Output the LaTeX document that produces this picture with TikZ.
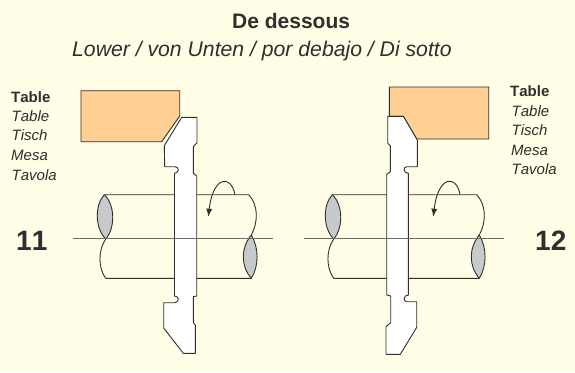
\documentclass[tikz,border=0pt]{standalone}
\usepackage{fontspec}
\usetikzlibrary{arrows.meta}
\setmainfont[Kerning=Off]{Liberation Sans}
\definecolor{paper}{HTML}{FFFDE6}
\definecolor{blockcol}{HTML}{FFCF94}
\definecolor{lenscol}{HTML}{C8C9CB}
\definecolor{inkcol}{HTML}{2F2F2D}
\tikzset{
  outline/.style={draw=inkcol,line width=0.9pt,line join=round},
  block/.style={outline,fill=blockcol},
  tool/.style={outline,fill=white},
  lens/.style={outline,fill=lenscol},
  axisline/.style={draw=gray!85!black,line width=1pt},
  label/.style={inner sep=0pt,anchor=base west,text=inkcol,font=\fontsize{15}{15}\selectfont\itshape},
  labelhead/.style={label,font=\fontsize{15}{15}\selectfont\bfseries},
  number/.style={inner sep=0pt,anchor=base west,text=inkcol,font=\fontsize{28}{28}\selectfont\bfseries},
  heading/.style={inner sep=0pt,anchor=base west,text=inkcol,font=\fontsize{21}{21}\selectfont}
}
\begin{document}
\begin{tikzpicture}[x=1pt,y=-1pt]
  \useasboundingbox[fill=paper] (0,0) rectangle (575,372);
  % titles
  \node[heading,font=\fontsize{21}{21}\selectfont\bfseries] (title) at (232,28.5) {De dessous};
  \node[heading,font=\fontsize{21.2}{21.2}\selectfont\itshape] (subtitle) at (72,56.5) {Lower / von Unten / por debajo / Di sotto};
  % shafts
  \foreach \dx in {0,228}{
    \begin{scope}[xshift=\dx]
      \draw[outline] (104.3,194.7) -- (248.7,194.7)
        .. controls (258.4,205) and (258.4,222) .. (251.3,235);
      \draw[outline] (105.7,239) .. controls (98,250) and (98,268) .. (105.7,278.3) -- (251.3,278.3);
      \draw[lens] (104.3,194.7) .. controls (94.7,205) and (94.7,228) .. (105.7,239)
        .. controls (115.3,228) and (115.3,205) .. (104.3,194.7);
      \draw[lens] (251.3,235) .. controls (240.6,248) and (240.6,266) .. (251.3,278.3)
        .. controls (259,266) and (259,248) .. (251.3,235);
    \end{scope}
  }
  % rotation arrows
  \draw[outline,-{Latex[length=8pt,width=6pt]}] (235,194.7) .. controls (231,174) and (213,176) .. (208.3,216.7);
  \draw[outline,-{Latex[length=8pt,width=6pt]}] (460,194.3) .. controls (456,174) and (438,176) .. (433.3,216.7);
  % tables
  \draw[block] (81,90.7) -- (179.7,90.7) -- (179.7,116) -- (161.7,141.7) -- (81,141.7) -- cycle;
  \draw[block] (389.3,87) -- (488.7,87) -- (488.7,139) -- (416.7,139) -- (403.3,116.3) -- (389.3,116.3) -- cycle;
  % left tool
  \draw[tool] (181.7,117.3) -- (197,117.3) -- (197,142.7) -- (193.3,146.7) -- (193.3,173.3) -- (196.7,176)
    -- (196.7,296) -- (193.3,296.7) -- (193.3,322.7) -- (195.3,325) -- (195.3,353.3) -- (183.3,353.3)
    -- (163.7,328) -- (163.7,302.7) -- (175,302.7) .. controls (180,302) and (179,296) .. (174.5,296)
    -- (174.5,173.3) .. controls (179,173) and (180,167) .. (175,166.7) -- (164.7,166.7) -- (164.3,145.7) -- cycle;
  % right tool
  \draw[tool] (387.7,116.3) -- (403.3,116.3) -- (417.3,140) -- (417.3,166.7) -- (406.5,166.7)
    .. controls (403,167) and (403,173) .. (408.3,173.3) -- (408.3,295)
    .. controls (403,295) and (403,301.7) .. (406.7,301.7) -- (416.7,301.7) -- (416.7,327.3) -- (400.3,354.3)
    -- (386,354.3) -- (386,326.7) -- (390.7,322.7) -- (390.7,296) -- (386.7,295) -- (386.7,174.3)
    -- (390.3,171.7) -- (390.3,145.7) -- (387.7,143.3) -- cycle;
  % axes
  \draw[axisline] (73.3,238) -- (272.7,238);
  \draw[axisline] (304,238) -- (503.7,238);
  % left labels
  \node[labelhead] (lefthead) at (11,102.2) {Table};
  \node[label] (lefta) at (11.5,121.7) {Table};
  \node[label] (leftb) at (11.5,140.7) {Tisch};
  \node[label] (leftc) at (11,160.5) {Mesa};
  \node[label] (leftd) at (11.5,180) {Tavola};
  \node[number] (numleft) at (16,250) {11};
  % right labels
  \node[labelhead] (righthead) at (510,96.7) {Table};
  \node[label] (righta) at (511.5,116.7) {Table};
  \node[label] (rightb) at (511.5,135.7) {Tisch};
  \node[label] (rightc) at (511,155) {Mesa};
  \node[label] (rightd) at (511.5,174) {Tavola};
  \node[number] (numright) at (535,250) {12};
\end{tikzpicture}
\end{document}
